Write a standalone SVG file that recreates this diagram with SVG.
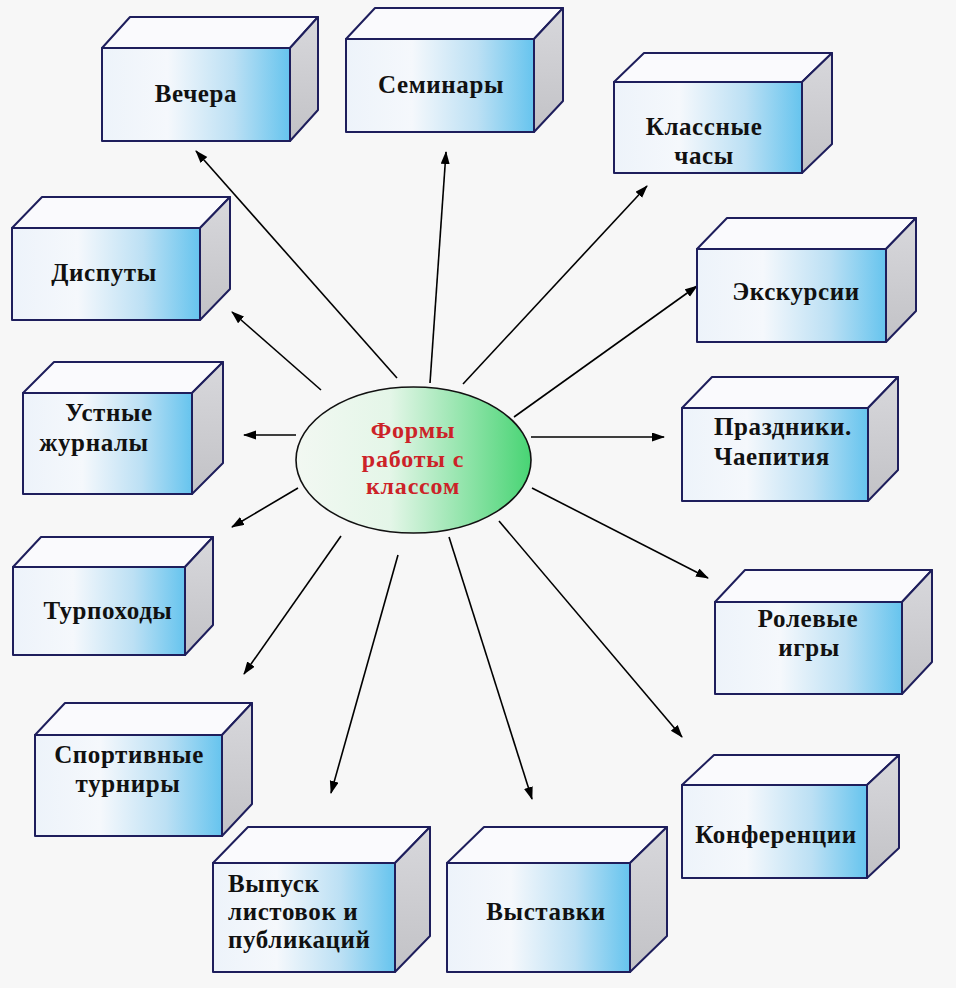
<svg xmlns="http://www.w3.org/2000/svg" width="956" height="988" viewBox="0 0 956 988">
<defs>
<linearGradient id="gFront" x1="0" y1="0" x2="1" y2="0">
<stop offset="0" stop-color="#edf3fa"/>
<stop offset="0.35" stop-color="#f5f8fc"/>
<stop offset="0.7" stop-color="#bce0f4"/>
<stop offset="1" stop-color="#66c4ee"/>
</linearGradient>
<linearGradient id="gSide" x1="0" y1="0" x2="0" y2="1">
<stop offset="0" stop-color="#d8d8dc"/>
<stop offset="1" stop-color="#c2c2c6"/>
</linearGradient>
<linearGradient id="gEll" x1="0" y1="0" x2="1" y2="0">
<stop offset="0" stop-color="#f2f8f2"/>
<stop offset="0.4" stop-color="#e4f6e8"/>
<stop offset="1" stop-color="#48d474"/>
</linearGradient>
<marker id="ah" markerUnits="userSpaceOnUse" markerWidth="14" markerHeight="10" refX="12" refY="4.5" orient="auto">
<path d="M0,0 L13,4.5 L0,9 z" fill="#000"/>
</marker>
<style>
.front{fill:url(#gFront);stroke:#1e1e5c;stroke-width:2;stroke-linejoin:round}
.top{fill:#fafafd;stroke:#1e1e5c;stroke-width:2;stroke-linejoin:round}
.side{fill:url(#gSide);stroke:#1e1e5c;stroke-width:2;stroke-linejoin:round}
.lbl{font-family:"Liberation Serif","Times New Roman",serif;font-weight:bold;font-size:25px;fill:#111;letter-spacing:0.6px}
.c{text-anchor:middle}
.ctr{font-family:"Liberation Serif","Times New Roman",serif;font-weight:bold;font-size:24px;fill:#cc2228;text-anchor:middle;letter-spacing:0.8px}
.arr{stroke:#000;stroke-width:1.6;fill:none;marker-end:url(#ah)}
</style>
</defs>
<rect width="956" height="988" fill="#f7f7f7"/>

<g id="connectors">
<line class="arr" x1="397" y1="378" x2="196" y2="151"/>
<line class="arr" x1="430" y1="383" x2="446" y2="152"/>
<line class="arr" x1="463" y1="384" x2="647" y2="186"/>
<line class="arr" x1="514" y1="417" x2="697" y2="286"/>
<line class="arr" x1="531" y1="437" x2="664" y2="437"/>
<line class="arr" x1="532" y1="488" x2="708" y2="578"/>
<line class="arr" x1="499" y1="521" x2="682" y2="737"/>
<line class="arr" x1="449" y1="537" x2="532" y2="799"/>
<line class="arr" x1="398" y1="555" x2="331" y2="793"/>
<line class="arr" x1="341" y1="536" x2="244" y2="674"/>
<line class="arr" x1="298" y1="488" x2="232" y2="527"/>
<line class="arr" x1="296" y1="435" x2="244" y2="435"/>
<line class="arr" x1="321" y1="390" x2="232" y2="312"/>
</g>

<g id="center">
<ellipse cx="413.5" cy="460" rx="117.5" ry="73" fill="url(#gEll)" stroke="#111" stroke-width="1.6"/>
<text class="ctr" x="413" y="438">Формы</text>
<text class="ctr" x="413" y="467">работы с</text>
<text class="ctr" x="413" y="494">классом</text>
</g>

<g id="n-vechera">
<polygon class="top" points="102,48 130,17 318,17 290,48"/>
<polygon class="side" points="290,48 318,17 318,110 290,141"/>
<rect class="front" x="102" y="48" width="188" height="93"/>
<text class="lbl c" x="196" y="102">Вечера</text>
</g>

<g id="n-seminary">
<polygon class="top" points="346,39 375,8 563,8 534,39"/>
<polygon class="side" points="534,39 563,8 563,101 534,132"/>
<rect class="front" x="346" y="39" width="188" height="93"/>
<text class="lbl c" x="441" y="93">Семинары</text>
</g>

<g id="n-klassnye">
<polygon class="top" points="614,82 644,53 832,53 802,82"/>
<polygon class="side" points="802,82 832,53 832,144 802,173"/>
<rect class="front" x="614" y="82" width="188" height="91"/>
<text class="lbl c" x="704" y="135">Классные</text>
<text class="lbl c" x="704" y="164">часы</text>
</g>

<g id="n-disputy">
<polygon class="top" points="12,228 42,197 230,197 200,228"/>
<polygon class="side" points="200,228 230,197 230,289 200,320"/>
<rect class="front" x="12" y="228" width="188" height="92"/>
<text class="lbl c" x="104" y="281">Диспуты</text>
</g>

<g id="n-ekskursii">
<polygon class="top" points="697,249 727,218 916,218 886,249"/>
<polygon class="side" points="886,249 916,218 916,311 886,342"/>
<rect class="front" x="697" y="249" width="189" height="93"/>
<text class="lbl c" x="796" y="300">Экскурсии</text>
</g>

<g id="n-ustnye">
<polygon class="top" points="23,393 54,362 223,362 192,393"/>
<polygon class="side" points="192,393 223,362 223,463 192,494"/>
<rect class="front" x="23" y="393" width="169" height="101"/>
<text class="lbl c" x="109" y="421">Устные</text>
<text class="lbl c" x="94" y="451">журналы</text>
</g>

<g id="n-prazdniki">
<polygon class="top" points="682,408 712,377 898,377 868,408"/>
<polygon class="side" points="868,408 898,377 898,470 868,501"/>
<rect class="front" x="682" y="408" width="186" height="93"/>
<text class="lbl" x="714" y="435">Праздники.</text>
<text class="lbl" x="714" y="465">Чаепития</text>
</g>

<g id="n-turpohody">
<polygon class="top" points="13,567 41,537 213,537 185,567"/>
<polygon class="side" points="185,567 213,537 213,625 185,655"/>
<rect class="front" x="13" y="567" width="172" height="88"/>
<text class="lbl c" x="108" y="619">Турпоходы</text>
</g>

<g id="n-rolevye">
<polygon class="top" points="715,602 745,570 932,570 902,602"/>
<polygon class="side" points="902,602 932,570 932,662 902,694"/>
<rect class="front" x="715" y="602" width="187" height="92"/>
<text class="lbl c" x="808" y="627">Ролевые</text>
<text class="lbl c" x="809" y="656">игры</text>
</g>

<g id="n-sportivnye">
<polygon class="top" points="35,735 65,703 252,703 222,735"/>
<polygon class="side" points="222,735 252,703 252,804 222,836"/>
<rect class="front" x="35" y="735" width="187" height="101"/>
<text class="lbl c" x="129" y="763">Спортивные</text>
<text class="lbl c" x="128" y="792">турниры</text>
</g>

<g id="n-konferencii">
<polygon class="top" points="682,785 714,755 899,755 867,785"/>
<polygon class="side" points="867,785 899,755 899,848 867,878"/>
<rect class="front" x="682" y="785" width="185" height="93"/>
<text class="lbl c" x="776" y="843">Конференции</text>
</g>

<g id="n-vypusk">
<polygon class="top" points="213,863 248,827 430,827 395,863"/>
<polygon class="side" points="395,863 430,827 430,936 395,972"/>
<rect class="front" x="213" y="863" width="182" height="109"/>
<text class="lbl" x="228" y="892">Выпуск</text>
<text class="lbl" x="228" y="920">листовок и</text>
<text class="lbl" x="228" y="948">публикаций</text>
</g>

<g id="n-vystavki">
<polygon class="top" points="447,863 484,827 667,827 630,863"/>
<polygon class="side" points="630,863 667,827 667,936 630,972"/>
<rect class="front" x="447" y="863" width="183" height="109"/>
<text class="lbl c" x="546" y="920">Выставки</text>
</g>
</svg>
